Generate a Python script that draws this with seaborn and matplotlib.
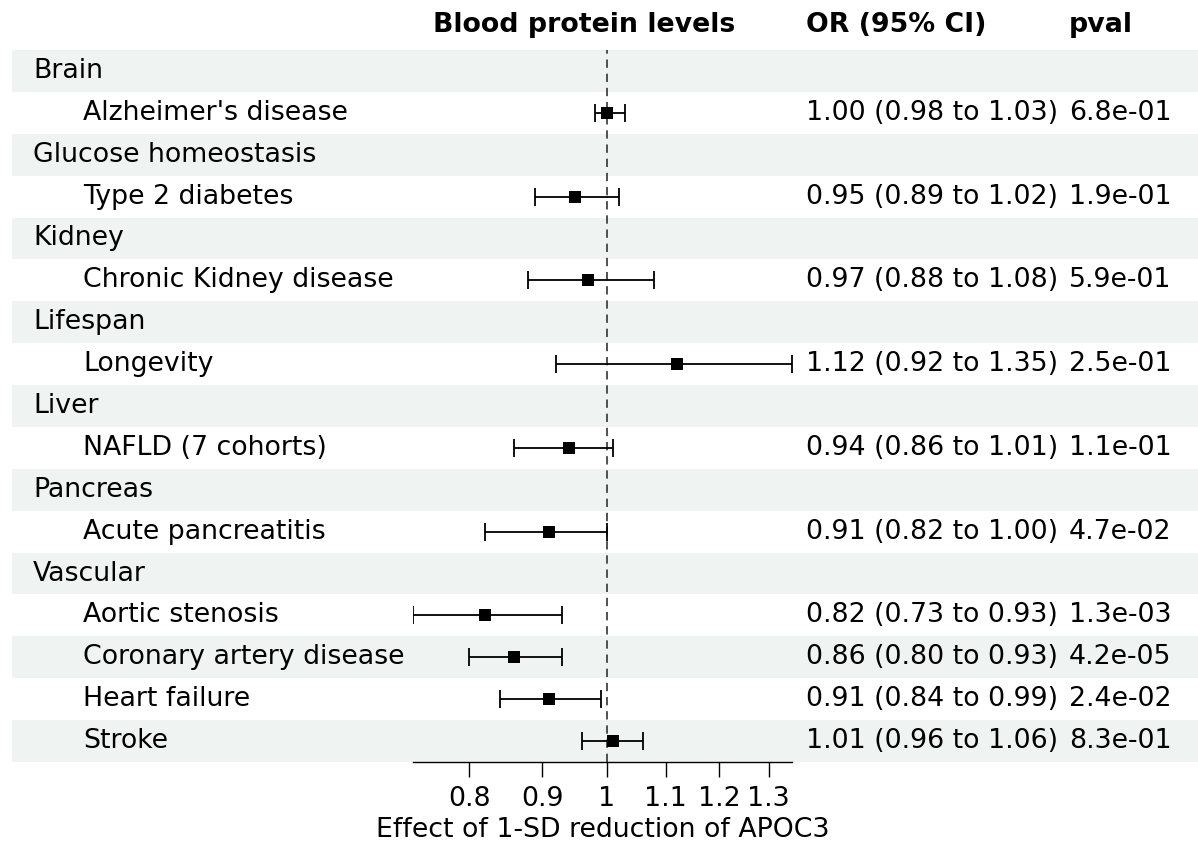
import numpy as np
import pandas as pd
import seaborn as sns
import matplotlib.pyplot as plt
from matplotlib.ticker import FixedLocator, FixedFormatter, NullLocator

# dados do forest plot (APOC3)
groups = ["Brain", "Glucose homeostasis", "Kidney", "Lifespan", "Liver", "Pancreas", "Vascular"]
outcomes = ["Alzheimer's disease", "Type 2 diabetes", "Chronic Kidney disease", "Longevity",
            "NAFLD (7 cohorts)", "Acute pancreatitis", "Aortic stenosis",
            "Coronary artery disease", "Heart failure", "Stroke"]
outcome_group = ["Brain", "Glucose homeostasis", "Kidney", "Lifespan", "Liver", "Pancreas",
                 "Vascular", "Vascular", "Vascular", "Vascular"]
or_est = [1.00, 0.95, 0.97, 1.12, 0.94, 0.91, 0.82, 0.86, 0.91, 1.01]
ci_low = [0.98, 0.89, 0.88, 0.92, 0.86, 0.82, 0.73, 0.80, 0.84, 0.96]
ci_high = [1.03, 1.02, 1.08, 1.35, 1.01, 1.00, 0.93, 0.93, 0.99, 1.06]
pvals = [6.8e-01, 1.9e-01, 5.9e-01, 2.5e-01, 1.1e-01, 4.7e-02, 1.3e-03, 4.2e-05, 2.4e-02, 8.3e-01]
x_ticks = [0.8, 0.9, 1, 1.1, 1.2, 1.3]
x_tick_labels = ["0.8", "0.9", "1", "1.1", "1.2", "1.3"]

# montar linhas da tabela (grupo + desfechos)
rows = []
for g in groups:
    rows.append({"label": g, "indent": False, "idx": None})
    for i, o in enumerate(outcomes):
        if outcome_group[i] == g:
            rows.append({"label": o, "indent": True, "idx": i})
n_rows = len(rows)

df = pd.DataFrame({"outcome": outcomes, "OR": or_est, "lo": ci_low, "hi": ci_high, "p": pvals})
df["row"] = [next(r for r, row in enumerate(rows) if row["idx"] == i) for i in range(len(outcomes))]

W, H = 1198, 843
fig = plt.figure(figsize=(W / 100, H / 100), dpi=100)
top_px, bot_px = 50, 762
fontsize = 19.3
shade = "#eff3f2"

# eixo de fundo (coordenadas em pixels no x)
ax_bg = fig.add_axes([12 / W, (H - bot_px) / H, (W - 12) / W, (bot_px - top_px) / H])
ax_bg.set_xlim(12, W)
ax_bg.set_ylim(n_rows - 0.5, -0.5)
ax_bg.axis("off")

for r, row in enumerate(rows):
    if r % 2 == 0:
        ax_bg.axhspan(r - 0.5, r + 0.5, color=shade, lw=0, zorder=0)
    x_lab = 83 if row["indent"] else 33
    ax_bg.text(x_lab, r, row["label"], fontsize=fontsize, va="center", ha="left")
    if row["idx"] is not None:
        d = df.iloc[row["idx"]]
        ax_bg.text(806, r, f"{d.OR:.2f} ({d.lo:.2f} to {d.hi:.2f})", fontsize=fontsize,
                   va="center", ha="left")
        ax_bg.text(1069, r, f"{d.p:.1e}", fontsize=fontsize, va="center", ha="left")

header_y = -0.5 - (top_px - 25) / ((bot_px - top_px) / n_rows)
for x, txt in [(433, "Blood protein levels"), (806, "OR (95% CI)"), (1069, "pval")]:
    ax_bg.text(x, header_y, txt, fontsize=fontsize, fontweight="bold", va="center",
               ha="left", clip_on=False)

# eixo do forest plot
ax = fig.add_axes([413 / W, (H - bot_px) / H, (792 - 413) / W, (bot_px - top_px) / H])
ax.patch.set_alpha(0)
ax.set_xscale("log")
ax.axvline(1, color="#333333", lw=1.2, ls=(0, (5, 3.5)), zorder=1)
ax.errorbar(df["OR"], df["row"], xerr=[df["OR"] - df["lo"], df["hi"] - df["OR"]],
            fmt="none", ecolor="black", elinewidth=1.3, capsize=6.5, capthick=1.3, zorder=2)
sns.scatterplot(data=df, x="OR", y="row", marker="s", s=82, color="black",
                edgecolor="black", linewidth=0, ax=ax, zorder=3, legend=False)
ax.set_xlim(min(ci_low), max(ci_high))
ax.set_ylim(n_rows - 0.5, -0.5)
ax.xaxis.set_major_locator(FixedLocator(x_ticks))
ax.xaxis.set_major_formatter(FixedFormatter(x_tick_labels))
ax.xaxis.set_minor_locator(NullLocator())
ax.set_yticks([])
for s in ["top", "right", "left"]:
    ax.spines[s].set_visible(False)
ax.spines["bottom"].set_linewidth(1.0)
ax.tick_params(axis="x", length=11, width=1.0, labelsize=fontsize, pad=6)
ax.set_xlabel("Effect of 1-SD reduction of APOC3", fontsize=fontsize, labelpad=4)
ax.set_ylabel("")

fig.savefig("out.png", dpi=100)
plt.close()
